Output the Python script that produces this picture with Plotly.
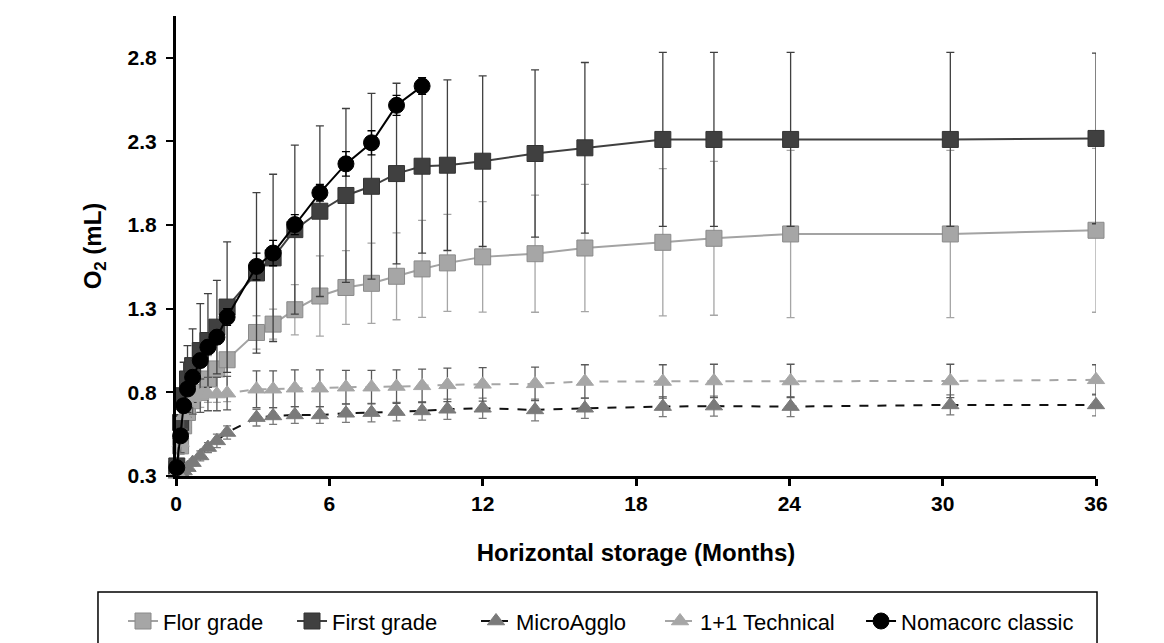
import plotly.graph_objects as go

# ---- data (months) ----
t_early = [0.03, 0.18, 0.3, 0.45, 0.65, 0.95, 1.25, 1.6, 2.0]
t_late = [3.15, 3.8, 4.65, 5.63, 6.65, 7.65, 8.63, 9.63, 10.62, 12.0, 14.05, 16.0, 19.05, 21.05, 24.05, 30.3, 36.0]
months = t_early + t_late

flor = [0.34, 0.48, 0.6, 0.68, 0.75, 0.8, 0.88, 0.94, 0.995,
        1.158, 1.208, 1.294, 1.376, 1.427, 1.452, 1.494, 1.538, 1.574, 1.61, 1.629, 1.663, 1.697, 1.721, 1.747, 1.747, 1.769]
flor_err = [0.02, 0.05, 0.08, 0.09, 0.08, 0.09, 0.14, 0.2, 0.25,
            0.1, 0.09, 0.15, 0.24, 0.22, 0.24, 0.26, 0.29, 0.29, 0.33, 0.35, 0.38, 0.44, 0.46, 0.5, 0.5, 0.49]

first = [0.36, 0.62, 0.78, 0.88, 0.96, 1.05, 1.11, 1.19, 1.31,
         1.514, 1.604, 1.773, 1.883, 1.977, 2.032, 2.108, 2.152, 2.158, 2.182, 2.228, 2.262, 2.312, 2.312, 2.312, 2.312, 2.318]
first_err = [0.03, 0.1, 0.2, 0.2, 0.22, 0.28, 0.28, 0.28, 0.39,
             0.48, 0.5, 0.505, 0.51, 0.52, 0.555, 0.54, 0.52, 0.51, 0.51, 0.5, 0.51, 0.52, 0.52, 0.52, 0.52, 0.51]

micro = [0.31, 0.32, 0.33, 0.35, 0.38, 0.42, 0.47, 0.51, 0.56,
         0.649, 0.659, 0.665, 0.665, 0.675, 0.679, 0.685, 0.689, 0.699, 0.705, 0.695, 0.705, 0.715, 0.718, 0.715, 0.725, 0.725]
micro_err = [0.01, 0.01, 0.02, 0.02, 0.02, 0.03, 0.03, 0.04, 0.04,
             0.05, 0.05, 0.05, 0.05, 0.055, 0.055, 0.055, 0.055, 0.06, 0.06, 0.065, 0.06, 0.06, 0.06, 0.06, 0.06, 0.065]

tech = [0.32, 0.5, 0.66, 0.74, 0.77, 0.78, 0.79, 0.79, 0.795,
        0.819, 0.819, 0.825, 0.825, 0.831, 0.831, 0.835, 0.839, 0.845, 0.848, 0.851, 0.865, 0.865, 0.868, 0.868, 0.868, 0.875]
tech_err = [0.02, 0.06, 0.08, 0.09, 0.1, 0.1, 0.1, 0.1, 0.1,
            0.11, 0.11, 0.11, 0.11, 0.1, 0.1, 0.1, 0.1, 0.1, 0.1, 0.1, 0.1, 0.1, 0.1, 0.1, 0.1, 0.09]

noma_months = t_early + t_late[:8]
noma = [0.35, 0.54, 0.72, 0.82, 0.89, 0.99, 1.07, 1.13, 1.25,
        1.553, 1.633, 1.803, 1.993, 2.166, 2.292, 2.516, 2.631]
noma_err = [0.02, 0.03, 0.03, 0.03, 0.03, 0.04, 0.04, 0.04, 0.05,
            0.08, 0.076, 0.06, 0.05, 0.073, 0.072, 0.06, 0.05]

x_ticks = [0, 6, 12, 18, 24, 30, 36]
y_ticks = [0.3, 0.8, 1.3, 1.8, 2.3, 2.8]

FONT = "Arial, Liberation Sans, sans-serif"
fig = go.Figure()

legend_ids = ["legend", "legend2", "legend3", "legend4", "legend5"]
legend_x = [-0.0576, 0.1261, 0.3261, 0.5261, 0.7446]

def add(idx, name, x, y, err, line_color, dash, msym, mcolor, medge, ecolor, msize):
    fig.add_trace(go.Scatter(
        x=x, y=y, name=name, mode="lines+markers", legend=legend_ids[idx],
        line=dict(color=line_color, width=2, dash=dash),
        marker=dict(symbol=msym, size=msize, color=mcolor, line=dict(color=medge, width=1)),
        error_y=dict(type="data", array=err, visible=True, color=ecolor, thickness=1.3, width=4),
        cliponaxis=False,
    ))

add(0, "Flor grade", months, flor, flor_err, "#a3a3a3", "solid", "square", "#a6a6a6", "#8a8a8a", "#a6a6a6", 16)
add(1, "First grade", months, first, first_err, "#404040", "solid", "square", "#404040", "#333333", "#404040", 16)
add(2, "MicroAgglo", months, micro, micro_err, "#111111", "dash", "triangle-up", "#7a7a7a", "#7a7a7a", "#7a7a7a", 15)
add(3, "1+1 Technical", months, tech, tech_err, "#a6a6a6", "dash", "triangle-up", "#a6a6a6", "#a6a6a6", "#5a5a5a", 15)
add(4, "Nomacorc classic", noma_months, noma, noma_err, "#000000", "solid", "circle", "#000000", "#000000", "#000000", 16)

axis_font = dict(family=FONT, size=21, color="#000000")
layout_legends = {}
for lid, lx in zip(legend_ids, legend_x):
    layout_legends[lid] = dict(
        orientation="h", x=lx, xanchor="left", y=-0.27, yanchor="top",
        borderwidth=0, bgcolor="rgba(0,0,0,0)",
        font=dict(size=22, family=FONT), itemwidth=30,
    )

fig.update_layout(
    width=1164, height=643,
    margin=dict(l=168, r=76, t=8, b=175),
    paper_bgcolor="white", plot_bgcolor="white",
    font=dict(family=FONT, color="#000000"),
    xaxis=dict(
        range=[0, 36], tickvals=x_ticks, ticktext=[f"<b>{v}</b>" for v in x_ticks],
        showgrid=False, zeroline=False, showline=True, linecolor="#000000", linewidth=3,
        ticks="outside", ticklen=7, tickwidth=3, tickcolor="#000000", tickfont=axis_font,
        title=dict(text="<b>Horizontal storage (Months)</b>", font=dict(size=24, family=FONT), standoff=30),
    ),
    yaxis=dict(
        range=[0.3, 3.05], tickvals=y_ticks, ticktext=[f"<b>{v}</b>" for v in y_ticks],
        showgrid=False, zeroline=False, showline=True, linecolor="#000000", linewidth=3,
        ticks="outside", ticklen=7, tickwidth=2, tickcolor="#000000", tickfont=axis_font,
        ticklabelstandoff=5,
        title=dict(text="<b>O<sub>2</sub> (mL)</b>", font=dict(size=24, family=FONT), standoff=20),
    ),
    shapes=[dict(type="rect", xref="paper", yref="paper",
                 x0=-0.0848, x1=1.0011, y0=-0.2522, y1=-0.42,
                 line=dict(color="#000000", width=1.5), fillcolor="rgba(0,0,0,0)", layer="below")],
    showlegend=True,
    **layout_legends,
)

fig.write_html("out.html")
